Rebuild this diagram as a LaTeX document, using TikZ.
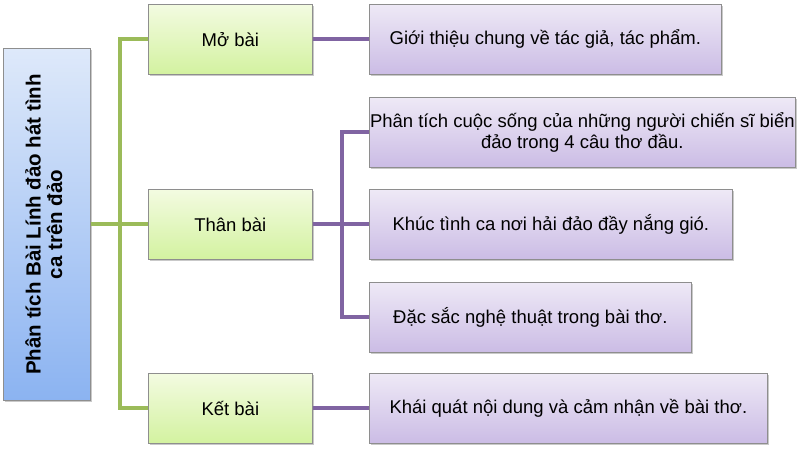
\documentclass[tikz,border=0pt]{standalone}
\usepackage{fontspec}
\setmainfont{Liberation Sans}
\usepackage{graphicx}
\usetikzlibrary{shadows}
\definecolor{glinec}{HTML}{9BBB59}
\definecolor{plinec}{HTML}{8064A2}
\definecolor{gtop}{HTML}{F3FBE1}
\definecolor{gbot}{HTML}{D3F2A0}
\definecolor{ptop}{HTML}{EEE9F6}
\definecolor{pbot}{HTML}{CBBCE5}
\definecolor{btop}{HTML}{DEE9FA}
\definecolor{bbot}{HTML}{8BB3F1}
\definecolor{boxborder}{HTML}{8E8E8E}
\begin{document}
\begin{tikzpicture}[x=1pt,y=-1pt,
  box/.style={draw=boxborder, line width=0.7pt, minimum height=70pt, inner sep=0pt,
    font=\fontsize{18.5}{21}\selectfont, align=center, anchor=north west,
    drop shadow={shadow xshift=1.5pt, shadow yshift=-2pt, opacity=0.35, fill=black!60}},
  gbox/.style={box, top color=gtop, bottom color=gbot, minimum width=164pt},
  pbox/.style={box, top color=ptop, bottom color=pbot},
  rootbox/.style={box, top color=btop, bottom color=bbot, minimum width=87pt, minimum height=352pt,
    font=\fontsize{20.5}{21}\selectfont\bfseries},
  gl/.style={draw=glinec, line width=3.8pt},
  pl/.style={draw=plinec, line width=3.8pt}]
\useasboundingbox[fill=white] (0,0) rectangle (800,453);

\node[rootbox] (root) at (3,48) {\rotatebox{90}{\begin{tabular}{@{}c@{}}Phân tích Bài Lính đảo hát tình\\ca trên đảo\end{tabular}}};

\node[gbox] (mo) at (148,4) {Mở bài};
\node[gbox] (than) at (148,189) {Thân bài};
\node[gbox] (ket) at (148,373) {Kết bài};

\node[pbox, minimum width=352pt] (p1) at (369,4) {Giới thiệu chung về tác giả, tác phẩm.};
\node[pbox, minimum width=426pt] (p2) at (369,97) {Phân tích cuộc sống của những người chiến sĩ biển\\đảo trong 4 câu thơ đầu.};
\node[pbox, minimum width=363pt] (p3) at (369,189) {Khúc tình ca nơi hải đảo đầy nắng gió.};
\node[pbox, minimum width=322pt] (p4) at (369,282) {Đặc sắc nghệ thuật trong bài thơ.};
\node[pbox, minimum width=398pt] (p5) at (369,373) {Khái quát nội dung và cảm nhận về bài thơ.};

\coordinate (gt) at (120,224);
\coordinate (pt) at (342,224);

\draw[gl] (mo.west) -| (gt) |- (ket.west);
\draw[gl] (root.east) -- (than.west);

\draw[pl] (p2.west) -| (pt) |- (p4.west);
\draw[pl] (mo.east) -- (p1.west);
\draw[pl] (than.east) -- (p3.west);
\draw[pl] (ket.east) -- (p5.west);
\end{tikzpicture}
\end{document}
